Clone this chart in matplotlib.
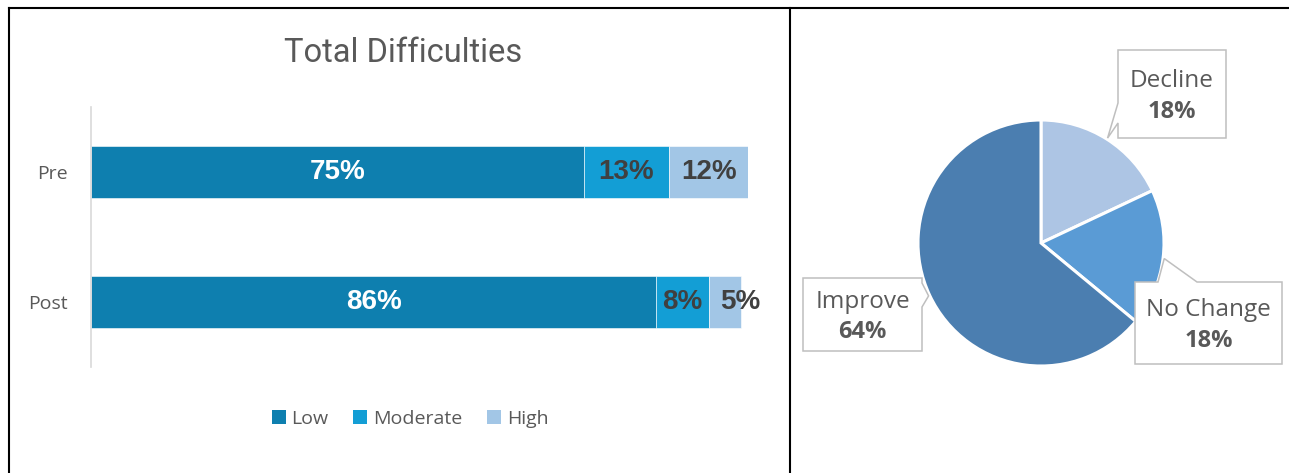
#!/usr/bin/env python3
"""Total difficulties: stacked pre/post bars plus a change pie with callouts."""
import matplotlib

matplotlib.use("Agg")

import matplotlib.pyplot as plt
import numpy as np
from matplotlib.lines import Line2D
from matplotlib.patches import Patch, Polygon

# stacked bar data (percent)
periods = ["Pre", "Post"]
levels = ["Low", "Moderate", "High"]
low = [75, 86]
moderate = [13, 8]
high = [12, 5]

# pie data (percent)
change_labels = ["Decline", "No Change", "Improve"]
change_values = [18, 18, 64]

LEVEL_COLORS = ["#0E7FAF", "#139ED5", "#A2C6E6"]
PIE_COLORS = ["#ADC5E4", "#5A9BD5", "#4B7EB0"]
GREY_TEXT = "#595959"
DARK_TEXT = "#404040"

W, H, DPI = 1289, 473, 100


def px_rect(left, top, right, bottom):
    """Figure-fraction rect from pixel edges (origin top-left)."""
    return [left / W, 1 - bottom / H, (right - left) / W, (bottom - top) / H]


def callout(ax, box, side, base, tip):
    """White callout box with a pointer on one side ending at tip."""
    x0, y0, x1, y1 = box
    if side == "top":
        pts = [(x0, y1), (base[0], y1), tip, (base[1], y1), (x1, y1), (x1, y0), (x0, y0)]
    elif side == "right":
        pts = [(x0, y1), (x1, y1), (x1, base[0]), tip, (x1, base[1]), (x1, y0), (x0, y0)]
    else:  # left
        pts = [(x0, y1), (x1, y1), (x1, y0), (x0, y0), (x0, base[0]), tip, (x0, base[1])]
    ax.add_patch(Polygon(pts, closed=True, facecolor="white", edgecolor="#BFBFBF",
                         linewidth=1.1, clip_on=False, zorder=5))


fig = plt.figure(figsize=(W / DPI, H / DPI), dpi=DPI)

# ---- left panel: stacked horizontal bars ----
ax = fig.add_axes(px_rect(91, 107, 748, 367))
y = np.arange(len(periods))
left = np.zeros(len(periods))
for name, vals, col in zip(levels, [low, moderate, high], LEVEL_COLORS):
    vals = np.asarray(vals, dtype=float)
    ax.barh(y, vals, left=left, height=0.4, color=col, edgecolor="white",
            linewidth=0.4, label=name)
    for yi, l, v in zip(y, left, vals):
        # thin segments get their label pushed to the right so it doesn't collide
        if v < 6:
            tx, ha = l + 1.8, "left"
        else:
            tx, ha = l + v / 2, "center"
        ax.text(tx, yi, f"{v:.0f}%", ha=ha, va="center",
                fontsize=20, fontweight="bold", family="Liberation Sans",
                color="white" if name == "Low" else DARK_TEXT)
    left += vals

ax.set_xlim(0, 100)
ax.set_ylim(1.5, -0.5)
ax.set_yticks(y)
ax.set_yticklabels(periods, fontsize=14, color=GREY_TEXT, family="Open Sans")
ax.tick_params(axis="y", length=0, pad=16.5)
ax.set_xticks([])
for s in ("top", "right", "bottom"):
    ax.spines[s].set_visible(False)
ax.spines["left"].set_color("#D9D9D9")
ax.spines["left"].set_linewidth(1.2)

fig.text(403 / W, 1 - 53 / H, "Total Difficulties", ha="center", va="center",
         fontsize=23.5, color=GREY_TEXT, family="Roboto")

handles = [Patch(facecolor=c, edgecolor="none") for c in LEVEL_COLORS]
fig.legend(handles, levels, loc="center", bbox_to_anchor=(410 / W, 1 - 419 / H),
           ncol=3, frameon=False, handlelength=0.72, handleheight=0.72,
           handletextpad=0.28, columnspacing=1.3, labelcolor=GREY_TEXT,
           prop={"family": "Open Sans", "size": 14})

# ---- right panel: pie of change ----
R = 123
pax = fig.add_axes(px_rect(1041 - R, 243 - R, 1041 + R, 243 + R))
wedges, _ = pax.pie(change_values, colors=PIE_COLORS, startangle=90,
                    counterclock=False, radius=1,
                    wedgeprops=dict(edgecolor="white", linewidth=2.2))
pax.set_xlim(-1, 1)
pax.set_ylim(-1, 1)
pax.set_aspect("equal")
pax.axis("off")


def d(px_x, px_y):
    """Pixel position to pie data coordinates."""
    return (px_x - 1041) / R, (243 - px_y) / R


# box edges (left, bottom, right, top) in pixels, pointer side and base
layout = {
    "Decline": dict(box=(1118, 138, 1226, 50), side="left", base=(123, 103)),
    "No Change": dict(box=(1135, 364, 1282, 282), side="top", base=(1158, 1197)),
    "Improve": dict(box=(803, 351, 922, 278), side="right", base=(283, 307)),
}

for w, name, val in zip(wedges, change_labels, change_values):
    lay = layout[name]
    bx0, by0, bx1, by1 = lay["box"]
    x0, y0 = d(bx0, by0)
    x1, y1 = d(bx1, by1)
    if lay["side"] == "top":
        base = (d(lay["base"][0], 0)[0], d(lay["base"][1], 0)[0])
    else:
        base = (d(0, lay["base"][0])[1], d(0, lay["base"][1])[1])
    mid = np.deg2rad((w.theta1 + w.theta2) / 2)
    tip = (1.01 * np.cos(mid), 1.01 * np.sin(mid))
    callout(pax, (x0, y0, x1, y1), lay["side"], base, tip)
    cx, cy = (x0 + x1) / 2, (y0 + y1) / 2
    pax.text(cx, cy + 13 / R, name, ha="center", va="center", fontsize=17.5,
             color=GREY_TEXT, family="Open Sans", zorder=6, clip_on=False)
    pax.text(cx, cy - 18 / R, f"{val}%", ha="center", va="center", fontsize=17,
             fontweight="bold", color=GREY_TEXT, family="Open Sans", zorder=6,
             clip_on=False)

# ---- frame lines ----
frame = dict(color="black", linewidth=1.5, transform=fig.transFigure)
fig.add_artist(Line2D([9 / W, 1], [1 - 8 / H] * 2, **frame))
fig.add_artist(Line2D([9 / W] * 2, [0, 1 - 8 / H], **frame))
fig.add_artist(Line2D([790 / W] * 2, [0, 1 - 8 / H], **frame))

fig.savefig("out.png", dpi=DPI)
